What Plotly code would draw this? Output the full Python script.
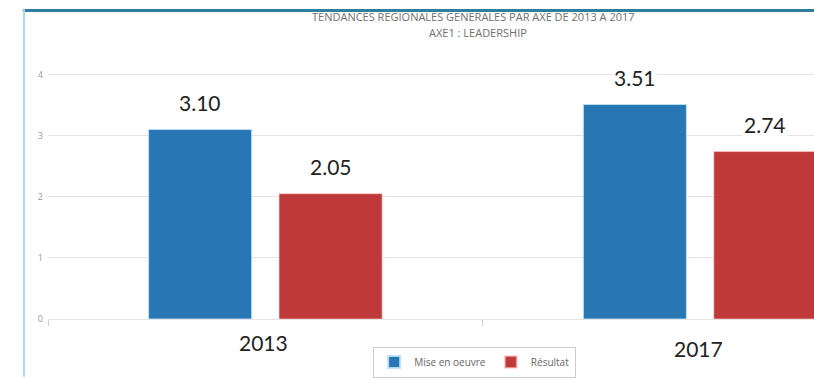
import plotly.graph_objects as go

# Chart data
years = ["2013", "2017"]
mise_en_oeuvre = [3.10, 3.51]
resultat = [2.05, 2.74]
series_names = ["Mise en oeuvre", "Résultat"]
y_ticks = [0, 1, 2, 3, 4]

title_line1 = "TENDANCES REGIONALES GENERALES PAR AXE DE 2013 A 2017"
title_line2 = "AXE1 : LEADERSHIP"

BLUE = "#2876b4"
RED = "#bf393a"
GROUP_SHIFT = 0.15  # half the distance between the two bars of a group

fig = go.Figure()
fig.add_trace(go.Bar(
    x=years, y=mise_en_oeuvre, name=series_names[0],
    marker=dict(color=BLUE, line=dict(color="rgba(190,225,245,0.9)", width=1)),
))
fig.add_trace(go.Bar(
    x=years, y=resultat, name=series_names[1],
    marker=dict(color=RED, line=dict(color="rgba(255,200,200,0.6)", width=1)),
))

annotations = []
# value labels above each bar
for i, (a, b) in enumerate(zip(mise_en_oeuvre, resultat)):
    for val, dx in ((a, -GROUP_SHIFT), (b, GROUP_SHIFT)):
        annotations.append(dict(
            x=i + dx, y=val, xref="x", yref="y", text=f"{val:.2f}",
            showarrow=False, yanchor="bottom", yshift=13,
            font=dict(family="Lato", size=21, color="#222222"),
            bgcolor="white", borderpad=1,
        ))

# category labels under the axis
for i, (yr, yp) in enumerate(zip(years, [-0.087, -0.108])):
    annotations.append(dict(
        x=i, y=yp, xref="x", yref="paper", text=yr, showarrow=False,
        yanchor="middle", xshift=-2,
        font=dict(family="Lato", size=21, color="#222222"),
    ))

# two-line title
annotations.append(dict(
    x=0.556, y=1.100, xref="paper", yref="paper", text=title_line1,
    showarrow=False, yanchor="middle",
    font=dict(family="Open Sans", size=11, color="#707070"),
))
annotations.append(dict(
    x=0.561, y=1.040, xref="paper", yref="paper", text=title_line2,
    showarrow=False, yanchor="middle",
    font=dict(family="Open Sans", size=11, color="#707070"),
))

shapes = [
    # frame: dark top rule and pale left rule
    dict(type="line", xref="paper", yref="paper", x0=-0.033, x1=1.0,
         y0=1.122, y1=1.122, line=dict(color="#2f7e9e", width=3), layer="above"),
    dict(type="line", xref="paper", yref="paper", x0=-0.0313, x1=-0.0313,
         y0=1.126, y1=-0.21, line=dict(color="#a9d9ec", width=2), layer="above"),
]

fig.update_layout(
    width=814, height=378,
    margin=dict(l=48, r=0, t=44, b=56),
    paper_bgcolor="white", plot_bgcolor="white",
    barmode="group", bargap=0.4, bargroupgap=0.21,
    showlegend=True,
    legend=dict(
        orientation="h", x=0.557, xanchor="center", y=-0.1, yanchor="top",
        bordercolor="#cccccc", borderwidth=1, bgcolor="white",
        font=dict(family="Open Sans", size=10, color="#666666"),
        itemsizing="constant", itemwidth=30, tracegroupgap=0,
    ),
    xaxis=dict(
        type="category", range=[-0.5, 1.262],
        showticklabels=False, showgrid=False, zeroline=False,
        ticks="outside", tickson="boundaries", ticklen=6,
        tickcolor="#d0d0d0", showline=False,
    ),
    yaxis=dict(
        range=[0, 4.5], tickvals=y_ticks, showgrid=True,
        gridcolor="#e4e4e4", gridwidth=1, zeroline=True,
        zerolinecolor="#e4e4e4", zerolinewidth=1,
        tickfont=dict(family="Open Sans", size=9, color="#9a9a9a"),
        ticklabelstandoff=4,
    ),
    annotations=annotations,
    shapes=shapes,
)

fig.write_html("out.html")
